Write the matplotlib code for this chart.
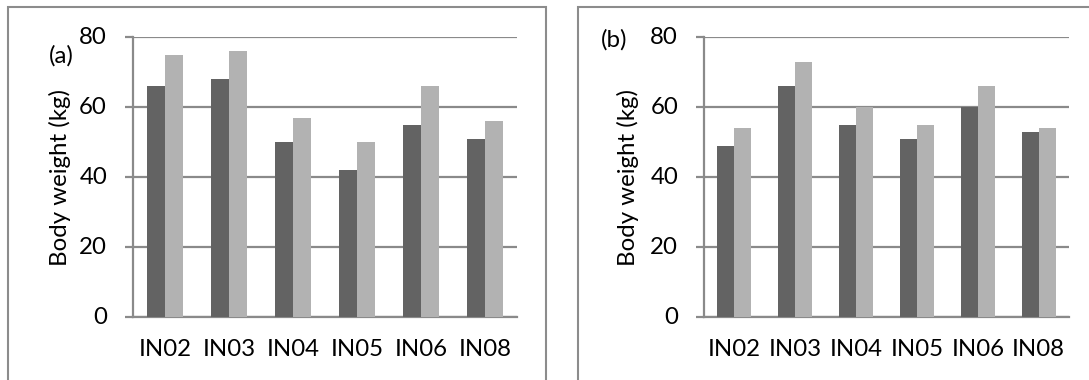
import matplotlib
matplotlib.use("Agg")
import matplotlib.pyplot as plt
from matplotlib.patches import Rectangle
import numpy as np

plt.rcParams['font.family'] = ['Lato', 'DejaVu Sans']

categories = ["IN02", "IN03", "IN04", "IN05", "IN06", "IN08"]
a_dark = [66, 68, 50, 42, 55, 51]
a_light = [75, 76, 57, 50, 66, 56]
b_dark = [49, 66, 55, 51, 60, 53]
b_light = [54, 73, 60, 55, 66, 54]
yticks = [0, 20, 40, 60, 80]
ylabel = "Body weight (kg)"
panel_labels = ["(a)", "(b)"]

W, H = 1089, 380
fig = plt.figure(figsize=(W / 100, H / 100), dpi=100)

# fit the font size so that the y label spans ~177 px like the reference
renderer = fig.canvas.get_renderer()
probe = fig.text(0, 0, ylabel, fontsize=10)
w10 = probe.get_window_extent(renderer).width
probe.remove()
FS = 10 * 177.0 / w10

GRID = "#8a8a8a"
DARK = "#636363"
LIGHT = "#b2b2b2"

def px(x0, y0, x1, y1):
    return [x0 / W, 1 - y1 / H, (x1 - x0) / W, (y1 - y0) / H]

P = 72.0 / 100  # points per pixel

# panel borders
for (x0, x1) in [(8, 546), (578, 1200)]:
    fig.add_artist(Rectangle((x0 / W, -0.2), (x1 - x0) / W, (1 - 7 / H) + 0.2,
                             transform=fig.transFigure, fill=False,
                             edgecolor="#8c8c8c", linewidth=1.5, clip_on=False))

specs = [
    (px(133, 37, 517, 317), a_dark, a_light, 60, (61, 56)),
    (px(704, 37, 1069, 317), b_dark, b_light, 628, (614, 40)),
]

bw = 0.28
for i, (rect, dark, light, ylx, lab) in enumerate(specs):
    ax = fig.add_axes(rect)
    x = np.arange(len(categories))
    ax.bar(x - bw / 2, dark, width=bw, color=DARK, zorder=3)
    ax.bar(x + bw / 2, light, width=bw, color=LIGHT, zorder=3)
    ax.set_xlim(-0.5, len(categories) - 0.5)
    ax.set_ylim(0, 80)
    ax.set_yticks(yticks)
    ax.set_yticklabels([str(v) for v in yticks], fontsize=FS, va="center")
    ax.set_xticks(x)
    ax.set_xticklabels(categories, fontsize=FS, va="center")
    ax.yaxis.grid(True, color=GRID, linewidth=1.6, zorder=0)
    ax.set_axisbelow(True)
    for s in ["top", "right"]:
        ax.spines[s].set_visible(False)
    ax.spines["left"].set_color(GRID)
    ax.spines["left"].set_linewidth(1.6)
    ax.spines["bottom"].set_color(GRID)
    ax.spines["bottom"].set_linewidth(1.6)
    ax.tick_params(axis="y", direction="out", length=8 * P, width=1.6, color=GRID, pad=18 * P)
    ax.tick_params(axis="x", length=0, pad=33 * P)
    fig.text(ylx / W, 1 - 177 / H, ylabel, rotation=90, ha="center", va="center", fontsize=FS)
    fig.text(lab[0] / W, 1 - lab[1] / H, panel_labels[i], ha="center", va="center", fontsize=FS)

fig.savefig("out.png", dpi=100)
